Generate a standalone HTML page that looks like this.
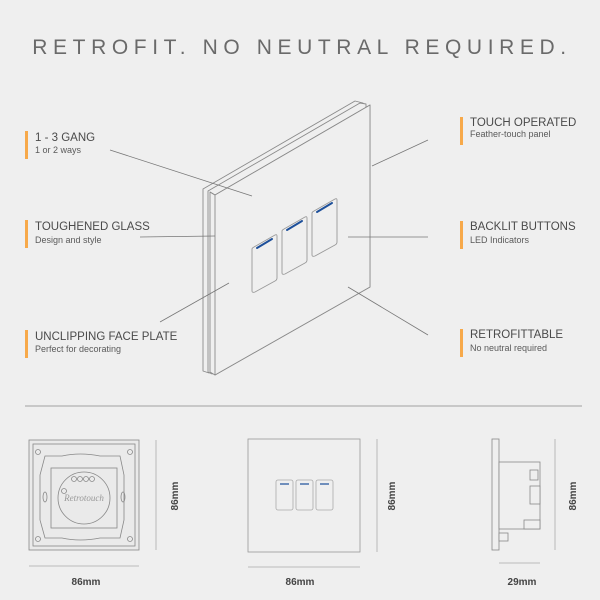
<!DOCTYPE html>
<html><head><meta charset="utf-8"><style>
html,body{margin:0;padding:0;background:#efefef;}
svg{display:block;}
.t{font-family:"Liberation Sans",sans-serif;font-size:11.5px;fill:#4a4a4a;}
.s{font-family:"Liberation Sans",sans-serif;font-size:9px;fill:#5a5a5a;}
.d{font-family:"Liberation Sans",sans-serif;font-size:10px;fill:#444;font-weight:bold;}
</style></head><body>
<svg width="600" height="600" viewBox="0 0 600 600" xmlns="http://www.w3.org/2000/svg">
<rect width="600" height="600" fill="#efefef"/>
<text x="302" y="54" text-anchor="middle" font-family="Liberation Sans,sans-serif" font-size="21" letter-spacing="5.6" fill="#6a6a6a">RETROFIT. NO NEUTRAL REQUIRED.</text>

<rect x="25" y="131" width="3" height="28" fill="#f7a94a"/>
<text class="t" x="35" y="141">1 - 3 GANG</text><text class="s" x="35" y="153">1 or 2 ways</text>
<rect x="25" y="220" width="3" height="28" fill="#f7a94a"/>
<text class="t" x="35" y="230">TOUGHENED GLASS</text><text class="s" x="35" y="243">Design and style</text>
<rect x="25" y="330" width="3" height="28" fill="#f7a94a"/>
<text class="t" x="35" y="340">UNCLIPPING FACE PLATE</text><text class="s" x="35" y="352">Perfect for decorating</text>
<rect x="460" y="117" width="3" height="28" fill="#f7a94a"/>
<text class="t" x="470" y="126">TOUCH OPERATED</text><text class="s" x="470" y="137">Feather-touch panel</text>
<rect x="460" y="221" width="3" height="28" fill="#f7a94a"/>
<text class="t" x="470" y="230">BACKLIT BUTTONS</text><text class="s" x="470" y="243">LED Indicators</text>
<rect x="460" y="329" width="3" height="28" fill="#f7a94a"/>
<text class="t" x="470" y="338">RETROFITTABLE</text><text class="s" x="470" y="351">No neutral required</text>

<g stroke="#8a8a8a" stroke-width="0.9" fill="#efefef" stroke-linejoin="round">
<polygon points="203,189 355,101 363,103 363,285 209,373 203,371"/>
<polygon points="208,191 360,103 366,104 366,286 212,374 208,372"/>
<polygon points="215,195 370,105 370,287 215,375 210,372 210,192"/>
<polygon points="215,195 370,105 370,287 215,375"/>
<line x1="210" y1="192" x2="215" y2="195"/>
</g>
<g stroke="#999" stroke-width="0.9" fill="#efefef">
<path d="M254,247 L275,235 Q277,234 277,236 L277,278 Q277,280 275,281 L255,292 Q252,293 252,291 L252,249 Q252,248 254,247Z"/>
<path d="M284,229 L305,217 Q307,216 307,218 L307,260 Q307,262 305,263 L285,274 Q282,275 282,273 L282,231 Q282,230 284,229Z"/>
<path d="M314,211 L335,199 Q337,198 337,200 L337,242 Q337,244 335,245 L315,256 Q312,257 312,255 L312,213 Q312,212 314,211Z"/>
</g>
<g stroke="#1d4f9a" stroke-width="2" stroke-linecap="round">
<line x1="257" y1="248" x2="272" y2="239"/>
<line x1="287" y1="230" x2="302" y2="221"/>
<line x1="317" y1="212" x2="332" y2="203"/>
</g>

<g stroke="#777" stroke-width="0.8" fill="none">
<line x1="110" y1="150" x2="252" y2="196"/>
<line x1="140" y1="237" x2="215" y2="236"/>
<line x1="160" y1="322" x2="229" y2="283"/>
<line x1="372" y1="166" x2="428" y2="140"/>
<line x1="348" y1="237" x2="428" y2="237"/>
<line x1="348" y1="287" x2="428" y2="335"/>
</g>

<line x1="25" y1="406" x2="582" y2="406" stroke="#888" stroke-width="0.8"/>

<g stroke="#888" stroke-width="0.8" fill="none">
<rect x="29" y="440" width="110" height="110" fill="#eaeaea"/>
<rect x="33" y="444" width="102" height="102"/>
<path d="M45,456 L62,456 Q80,452 100,456 L120,456 L124,475 L124,520 L120,538 L100,538 Q80,542 62,538 L45,538 L40,520 L40,475Z"/>
<rect x="51" y="468" width="66" height="60"/>
<circle cx="84" cy="498" r="26"/>
<circle cx="38" cy="452" r="2.5"/><circle cx="130" cy="452" r="2.5"/><circle cx="38" cy="539" r="2.5"/><circle cx="130" cy="539" r="2.5"/>
<circle cx="74" cy="479" r="2.5"/><circle cx="80" cy="479" r="2.5"/><circle cx="86" cy="479" r="2.5"/><circle cx="92" cy="479" r="2.5"/>
<circle cx="64" cy="491" r="2.5"/>
<ellipse cx="45" cy="497" rx="2" ry="5"/><ellipse cx="123" cy="497" rx="2" ry="5"/>
</g>
<text x="84" y="501" text-anchor="middle" font-family="Liberation Serif,serif" font-style="italic" font-size="9" fill="#999">Retrotouch</text>
<line x1="156" y1="440" x2="156" y2="550" stroke="#aaa" stroke-width="0.8"/>
<text class="d" transform="translate(178,496) rotate(-90)" text-anchor="middle">86mm</text>
<line x1="29" y1="566" x2="139" y2="566" stroke="#aaa" stroke-width="0.8"/>
<text class="d" x="86" y="585" text-anchor="middle">86mm</text>

<rect x="248" y="439" width="112" height="113" fill="#efefef" stroke="#999" stroke-width="0.8"/>
<g stroke="#aaa" stroke-width="0.8" fill="#efefef">
<rect x="276" y="480" width="17" height="30" rx="2"/>
<rect x="296" y="480" width="17" height="30" rx="2"/>
<rect x="316" y="480" width="17" height="30" rx="2"/>
</g>
<g stroke="#1d4f9a" stroke-width="1.2"><line x1="280" y1="484" x2="289" y2="484"/><line x1="300" y1="484" x2="309" y2="484"/><line x1="320" y1="484" x2="329" y2="484"/></g>
<line x1="377" y1="439" x2="377" y2="552" stroke="#aaa" stroke-width="0.8"/>
<text class="d" transform="translate(395,496) rotate(-90)" text-anchor="middle">86mm</text>
<line x1="248" y1="567" x2="360" y2="567" stroke="#aaa" stroke-width="0.8"/>
<text class="d" x="300" y="585" text-anchor="middle">86mm</text>

<g stroke="#888" stroke-width="0.8" fill="#efefef">
<rect x="492" y="439" width="7" height="111"/>
<rect x="499" y="462" width="41" height="67"/>
<rect x="530" y="470" width="8" height="10"/>
<rect x="530" y="486" width="10" height="18"/>
<rect x="524" y="520" width="16" height="9"/>
<rect x="499" y="533" width="9" height="8"/>
</g>
<line x1="555" y1="439" x2="555" y2="550" stroke="#aaa" stroke-width="0.8"/>
<text class="d" transform="translate(576,496) rotate(-90)" text-anchor="middle">86mm</text>
<line x1="499" y1="563" x2="540" y2="563" stroke="#aaa" stroke-width="0.8"/>
<text class="d" x="522" y="585" text-anchor="middle">29mm</text>
</svg>
</body></html>
